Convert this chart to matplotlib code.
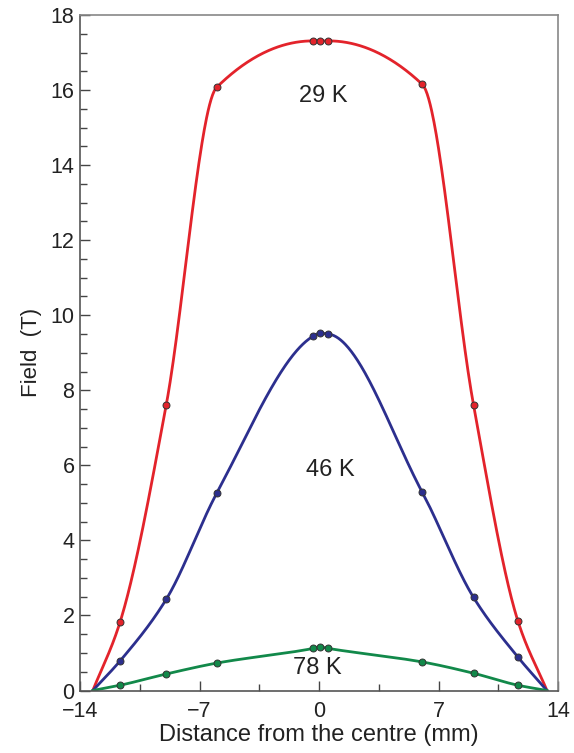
"""
Field profiles across the sample at three temperatures
"""

import numpy as np
import matplotlib.pyplot as plt

plt.rcParams['font.family'] = ['Liberation Sans', 'DejaVu Sans']

x_pts = [-13.25, -11.65, -8.95, -6.0, -0.35, 0.05, 0.55, 6.05, 9.05, 11.65, 13.35]
field_29k = [0, 1.83, 7.61, 16.07, 17.31, 17.31, 17.31, 16.15, 7.61, 1.85, 0]
field_46k = [0, 0.79, 2.43, 5.25, 9.44, 9.52, 9.50, 5.28, 2.48, 0.89, 0]
field_78k = [0, 0.14, 0.44, 0.73, 1.12, 1.16, 1.12, 0.76, 0.46, 0.14, 0]

labels = ['29 K', '46 K', '78 K']
label_pos = [(0.27, 15.85), (0.67, 5.88), (-0.09, 0.6)]
colors = ['#e3232b', '#2c2f8e', '#12894a']

x_ticks = [-14, -7, 0, 7, 14]
y_ticks = [0, 2, 4, 6, 8, 10, 12, 14, 16, 18]


def pchip(x, y, xs):
    """Monotone cubic curve through the points (for drawing the line)."""
    x = np.asarray(x, float)
    y = np.asarray(y, float)
    h = np.diff(x)
    d = np.diff(y) / h
    m = np.zeros_like(y)
    for k in range(1, len(x) - 1):
        if d[k - 1] * d[k] > 0:
            w1 = 2 * h[k] + h[k - 1]
            w2 = h[k] + 2 * h[k - 1]
            m[k] = (w1 + w2) / (w1 / d[k - 1] + w2 / d[k])
    m[0] = d[0]
    m[-1] = d[-1]
    idx = np.clip(np.searchsorted(x, xs) - 1, 0, len(x) - 2)
    t = (xs - x[idx]) / h[idx]
    h00 = 2 * t**3 - 3 * t**2 + 1
    h10 = t**3 - 2 * t**2 + t
    h01 = -2 * t**3 + 3 * t**2
    h11 = t**3 - t**2
    return (h00 * y[idx] + h10 * h[idx] * m[idx]
            + h01 * y[idx + 1] + h11 * h[idx] * m[idx + 1])


fig = plt.figure(figsize=(5.74, 7.53), dpi=100)
ax = fig.add_axes([0.1394, 0.0830, 0.8328, 0.8971])

xs = np.linspace(x_pts[0], x_pts[-1], 600)
for ys, c in zip([field_29k, field_46k, field_78k], colors):
    ax.plot(xs, pchip(x_pts, ys, xs), color=c, lw=2, zorder=2)
    ax.plot(x_pts[1:-1], ys[1:-1], 'o', ms=5, mfc=c, mec='#333333',
            mew=0.7, zorder=3)

for txt, (tx, ty) in zip(labels, label_pos):
    ax.text(tx, ty, txt, ha='center', va='center', fontsize=17, color='#222222')

ax.set_xlim(-14, 14)
ax.set_ylim(0, 18)
ax.set_xticks(x_ticks)
ax.set_xticks(np.arange(-14, 14.1, 3.5), minor=True)
ax.set_yticks(y_ticks)
ax.set_yticks(np.arange(0, 18.1, 0.5), minor=True)

ax.tick_params(which='both', direction='in', top=False, right=False,
               color='#444444', labelsize=15.5, labelcolor='#222222')
ax.tick_params(which='major', length=7, width=1)
ax.tick_params(which='minor', length=5, width=1)
ax.tick_params(axis='x', pad=7.5)
ax.tick_params(axis='y', pad=4)

for side in ['left', 'bottom']:
    ax.spines[side].set_color('#555555')
    ax.spines[side].set_linewidth(1.2)
for side in ['top', 'right']:
    ax.spines[side].set_color('#888888')
    ax.spines[side].set_linewidth(1.2)

ax.set_xlabel('Distance from the centre (mm)', fontsize=17, color='#222222',
              labelpad=1.5)
ax.set_ylabel('Field  (T)', fontsize=16, color='#222222', labelpad=6)

fig.savefig('out.png', dpi=100)
